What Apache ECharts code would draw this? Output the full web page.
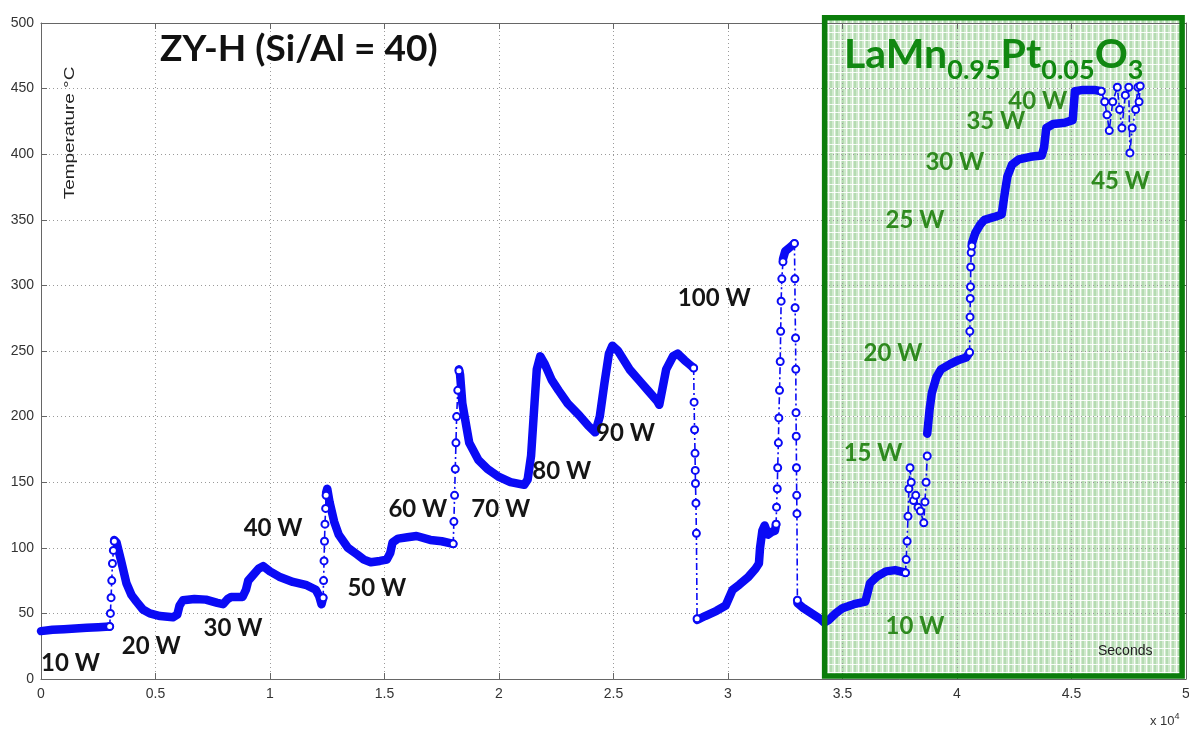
<!DOCTYPE html>
<html><head><meta charset="utf-8">
<script src="https://cdn.jsdelivr.net/npm/echarts@6/dist/echarts.min.js"></script>
<style>html,body{margin:0;padding:0;background:#fff;overflow:hidden}#c{width:1189px;height:731px}</style>
</head><body><div id="c"></div>
<script>
// x in units of 10^4 seconds, y in °C
const xTicks = [0, 0.5, 1, 1.5, 2, 2.5, 3, 3.5, 4, 4.5, 5];
const yTicks = [0, 50, 100, 150, 200, 250, 300, 350, 400, 450, 500];

// dense (steady) parts of the trace
const dense1 = [[0,36.5],[0.05,37.5],[0.1,38],[0.15,38.5],[0.2,39],[0.25,39.5],[0.3,40]];
const dense2 = [[0.32,106],[0.33,104],[0.35,90],[0.373,73],[0.395,64],[0.417,59],[0.445,53],[0.475,50],[0.52,48],[0.576,47],[0.595,49],[0.605,56],[0.62,60],[0.67,61],[0.72,60.5],[0.77,58],[0.795,57],[0.815,61],[0.83,62.5],[0.88,62.5],[0.895,68],[0.905,75],[0.925,79],[0.95,84],[0.97,86],[1.0,82],[1.04,78],[1.1,74],[1.16,71.5],[1.2,68],[1.215,63],[1.225,57],[1.232,62]];
const dense3 = [[1.245,142],[1.25,145],[1.26,135],[1.28,120],[1.3,110],[1.34,100],[1.38,95],[1.41,91],[1.44,89],[1.48,90],[1.51,91],[1.525,96],[1.535,104],[1.56,107],[1.6,108],[1.64,109],[1.7,106],[1.75,105],[1.8,103]];
const dense4 = [[1.825,236],[1.83,232],[1.84,210],[1.86,190],[1.87,180],[1.91,167],[1.95,160],[2.0,154],[2.05,150],[2.11,148],[2.125,152],[2.14,170],[2.155,210],[2.165,236],[2.18,246],[2.2,240],[2.23,228],[2.26,220],[2.3,210],[2.35,201],[2.39,193],[2.42,188],[2.44,200],[2.46,225],[2.48,248],[2.495,254],[2.52,250],[2.57,236],[2.62,226],[2.65,220],[2.69,212],[2.70,209],[2.71,218],[2.73,236],[2.76,246],[2.78,248],[2.81,243],[2.83,240],[2.85,237]];
const dense5 = [[2.865,45],[2.9,48],[2.95,52],[2.99,56],[3.0,60],[3.02,68],[3.05,72],[3.09,78],[3.12,84],[3.135,88],[3.14,100],[3.15,113],[3.16,117],[3.175,110],[3.19,112],[3.205,113],[3.21,118]];
const dense6 = [[3.24,320],[3.25,326],[3.27,329],[3.29,332]];
const dense7 = [[3.303,58],[3.33,54],[3.365,50],[3.4,46],[3.42,43],[3.44,45],[3.47,50],[3.5,54],[3.55,57],[3.6,59],[3.61,66],[3.62,73],[3.65,78],[3.69,82],[3.73,83],[3.775,81]];
const dense8 = [[3.87,187],[3.88,205],[3.89,218],[3.91,230],[3.93,236],[3.97,240],[4.005,243],[4.04,245],[4.055,249]];
const dense9 = [[4.065,332],[4.08,340],[4.1,346],[4.12,350],[4.16,352],[4.195,354],[4.2,360],[4.21,372],[4.22,383],[4.24,392],[4.27,396],[4.32,398],[4.37,399],[4.38,405],[4.39,420],[4.42,423],[4.47,424],[4.505,426],[4.515,448],[4.55,449],[4.6,449],[4.63,448]];

// sparse (fast change) parts, drawn with markers and dash-dot line
const jump1 = [[0.3,40],[0.303,50],[0.306,62],[0.309,75],[0.312,88],[0.316,98],[0.32,105]];
const jump2 = [[1.232,62],[1.234,75],[1.236,90],[1.238,105],[1.24,118],[1.243,130],[1.245,140]];
const jump3 = [[1.8,103],[1.803,120],[1.806,140],[1.809,160],[1.812,180],[1.815,200],[1.82,220],[1.825,235]];
const jump4 = [[2.85,237],[2.852,211],[2.854,190],[2.856,172],[2.857,159],[2.858,149],[2.86,134],[2.862,111],[2.865,46]];
const jump5 = [[3.21,118],[3.212,131],[3.215,145],[3.217,161],[3.22,180],[3.222,199],[3.225,220],[3.228,242],[3.23,265],[3.232,288],[3.235,305],[3.24,318]];
const jump6 = [[3.29,332],[3.292,305],[3.293,283],[3.295,260],[3.296,236],[3.297,203],[3.298,185],[3.299,161],[3.3,140],[3.301,126],[3.303,60]];
const jump7 = [[3.775,81],[3.778,91],[3.782,105],[3.786,124],[3.79,145],[3.795,161],[3.8,150],[3.81,136],[3.82,140],[3.83,131],[3.84,128],[3.855,119],[3.86,135],[3.865,150],[3.87,170]];
const jump8 = [[4.055,249],[4.056,265],[4.057,276],[4.058,290],[4.059,299],[4.06,314],[4.062,325],[4.065,330]];
const jump9 = [[4.63,448],[4.645,440],[4.655,430],[4.665,418],[4.68,440],[4.70,451],[4.71,434],[4.72,420],[4.735,445],[4.75,451],[4.755,401],[4.765,420],[4.78,434],[4.79,451],[4.795,440],[4.8,452]];

// annotations: [x, y, text]
const blackLabels = [[0,12,'10 W'],[0.353,25,'20 W'],[0.71,39,'30 W'],[0.885,115,'40 W'],[1.338,69,'50 W'],[1.517,129,'60 W'],[1.879,129,'70 W'],[2.145,158,'80 W'],[2.424,187,'90 W'],[2.781,290,'100 W']];
const greenLabels = [[3.688,40,'10 W'],[3.505,172,'15 W'],[3.592,248,'20 W'],[3.688,350,'25 W'],[3.862,394,'30 W'],[4.041,425,'35 W'],[4.224,440,'40 W'],[4.586,379,'45 W']];
const titleText = 'ZY-H (Si/Al = 40)';
const catalystBox = {x0: 3.422, x1: 4.983, y0: 2.3, y1: 504};

const BLUE = '#0a0af5';
const chart = echarts.init(document.getElementById('c'), null, {renderer: 'canvas', width:1189, height:731});

const denseSets = [dense1,dense2,dense3,dense4,dense5,dense6,dense7,dense8,dense9];
const jumpSets = [jump1,jump2,jump3,jump4,jump5,jump6,jump7,jump8,jump9];
const series = [];
denseSets.forEach(d => series.push({type:'line', data:d, showSymbol:false, symbol:'none', z:5,
  lineStyle:{color:BLUE, width:8.5, cap:'round', join:'round'}, animation:false, silent:true}));
jumpSets.forEach(d => series.push({type:'line', data:d, symbol:'emptyCircle', symbolSize:7, z:6,
  itemStyle:{color:BLUE, borderWidth:1.8},
  lineStyle:{color:BLUE, width:1.6, type:[7,3,2,3]}, animation:false, silent:true}));

const axisLbl = {color:'#333', fontFamily:'Liberation Sans, Arial', fontSize:14};
chart.setOption({
  animation:false,
  grid:{left:41, right:3, top:23, bottom:52, outerBoundsMode:'none', containLabel:false},
  xAxis:[{type:'value', min:0, max:5, interval:0.5, position:'bottom',
    axisLine:{onZero:false, lineStyle:{color:'#666', width:1}},
    axisTick:{inside:true, length:6, lineStyle:{color:'#666'}},
    axisLabel:Object.assign({margin:8, formatter:v=>String(v)}, axisLbl),
    splitLine:{show:true, lineStyle:{color:'#9a9a9a', type:[1,3], width:1}}},
    {type:'value', min:0, max:5, interval:0.5, position:'top',
    axisLine:{onZero:false, lineStyle:{color:'#666'}}, axisTick:{inside:true, length:6, lineStyle:{color:'#666'}},
    axisLabel:{show:false}, splitLine:{show:false}}],
  yAxis:[{type:'value', min:0, max:500, interval:50, position:'left',
    axisLine:{show:true, onZero:false, lineStyle:{color:'#666'}},
    axisTick:{show:true, inside:true, length:6, lineStyle:{color:'#666'}},
    axisLabel:Object.assign({margin:7}, axisLbl),
    splitLine:{show:true, lineStyle:{color:'#9a9a9a', type:[1,3], width:1}}},
    {type:'value', min:0, max:500, interval:50, position:'right',
    axisLine:{show:true, onZero:false, lineStyle:{color:'#666'}},
    axisTick:{show:true, inside:true, length:6, lineStyle:{color:'#666'}},
    axisLabel:{show:false}, splitLine:{show:false}}],
  series: series
});

// texture for the catalyst box
const pc = document.createElement('canvas');
pc.width = 6; pc.height = 8;
const g = pc.getContext('2d');
g.fillStyle = '#cbe7c8'; g.fillRect(0,0,6,8);
g.fillStyle = '#acd8a9'; g.fillRect(2,0,2,8);
g.fillStyle = 'rgba(255,255,255,0.9)'; g.fillRect(0,0,1,8); g.fillRect(0,0,6,1);

const P = (x,y) => chart.convertToPixel({xAxisIndex:0, yAxisIndex:0}, [x,y]);
const b0 = P(catalystBox.x0, catalystBox.y1), b1 = P(catalystBox.x1, catalystBox.y0);
const graphics = [];
graphics.push({type:'rect', z:-10, silent:true, shape:{x:b0[0], y:b0[1], width:b1[0]-b0[0], height:b1[1]-b0[1]},
  style:{fill:{image:pc, repeat:'repeat'}, opacity:0.9}});
graphics.push({type:'rect', z:20, silent:true, shape:{x:b0[0], y:b0[1], width:b1[0]-b0[0], height:b1[1]-b0[1]},
  style:{fill:null, stroke:'#0b7d0b', lineWidth:5.5}});

const labFont = 'bold 24px Lato, "Open Sans", sans-serif';
blackLabels.forEach(a => { const p = P(a[0],a[1]);
  graphics.push({type:'text', z:30, silent:true, x:p[0], y:p[1], style:{text:a[2], font:labFont, fill:'#151515', textVerticalAlign:'middle', textAlign:'left'}}); });
greenLabels.forEach(a => { const p = P(a[0],a[1]);
  graphics.push({type:'text', z:30, silent:true, x:p[0], y:p[1], style:{text:a[2], font:labFont, fill:'#2f8a1f', textVerticalAlign:'middle', textAlign:'left'}}); });

graphics.push({type:'text', z:30, silent:true, left:160, top:31, style:{text:titleText, font:'bold 37px Lato, "Open Sans", sans-serif', fill:'#111'}});
graphics.push({type:'text', z:30, silent:true, left:844, top:34, style:{
  text:'{a|LaMn}{s|0.95}{a|Pt}{s|0.05}{a|O}{s|3}',
  rich:{a:{font:'bold 41px Lato, "Open Sans", sans-serif', fill:'#118811', verticalAlign:'bottom'},
        s:{font:'bold 27px Lato, "Open Sans", sans-serif', fill:'#118811', verticalAlign:'bottom', padding:[0,0,-9,0]}}}});
graphics.push({type:'text', z:30, silent:true, left:1098, top:644, style:{text:'Seconds', font:'14px "Liberation Sans", Arial', fill:'#222'}});
graphics.push({type:'text', z:30, silent:true, left:1150, top:712, style:{
  text:'{a|x 10}{s|4}', rich:{a:{font:'13px "Liberation Sans", Arial', fill:'#333'}, s:{font:'9px "Liberation Sans", Arial', fill:'#333', padding:[0,0,10,0]}}}});
graphics.push({type:'text', z:30, silent:true, x:70, y:133, rotation:Math.PI/2, scaleX:1.35, style:{text:'Temperature °C', font:'14px "Liberation Sans", Arial', fill:'#222', textAlign:'center', textVerticalAlign:'middle'}});

chart.setOption({graphic: graphics});
</script></body></html>
